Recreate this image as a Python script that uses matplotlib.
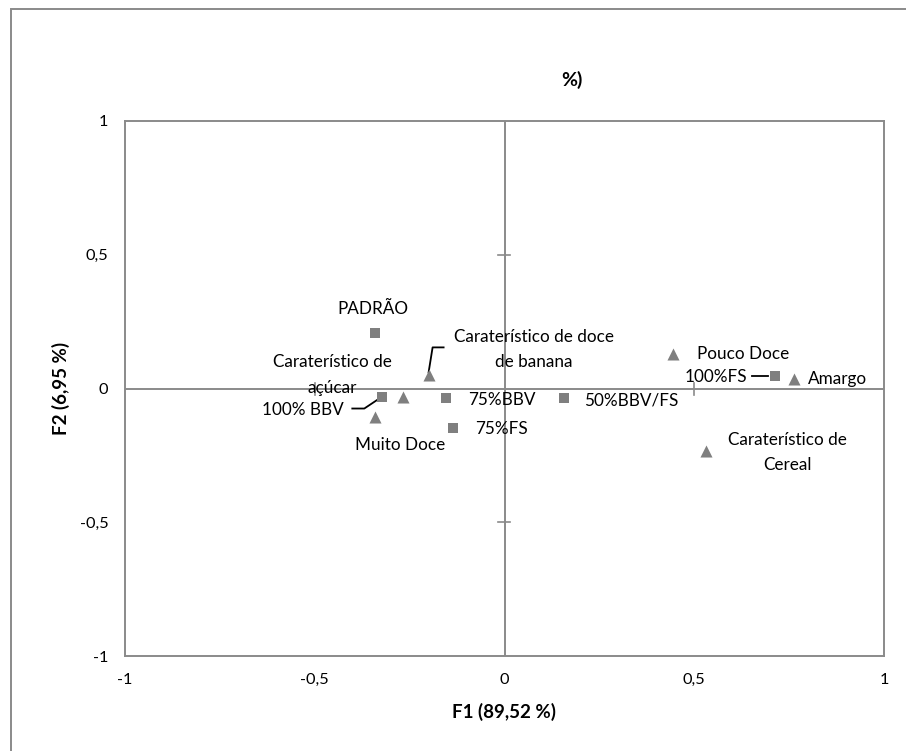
import numpy as np
import matplotlib
matplotlib.use("Agg")
import matplotlib.pyplot as plt
from matplotlib.patches import Rectangle

plt.rcParams['font.family'] = ['Lato', 'DejaVu Sans']

# ---- amostras (quadrados) ----
amostras = ["PADRÃO", "100% BBV", "75%BBV", "75%FS", "50%BBV/FS", "100%FS"]
amostras_f1 = [-0.340, -0.322, -0.153, -0.135, 0.156, 0.712]
amostras_f2 = [0.206, -0.030, -0.037, -0.146, -0.037, 0.045]

# ---- atributos (triângulos) ----
atributos = ["Caraterístico de doce\nde banana", "Caraterístico de\naçúcar", "Muito Doce",
             "Pouco Doce", "Amargo", "Caraterístico de\nCereal"]
atributos_f1 = [-0.200, -0.267, -0.340, 0.444, 0.763, 0.532]
atributos_f2 = [0.049, -0.033, -0.107, 0.130, 0.034, -0.232]

ticks = [-1, -0.5, 0, 0.5, 1]
tick_labels = ["-1", "-0,5", "0", "0,5", "1"]

# deslocamento dos rótulos em pixels (dx, dy, alinhamento)
off_amostras = {
    "PADRÃO": (-3, 24, "center"),
    "100% BBV": (-39, -13, "right"),
    "75%BBV": (22, -2, "left"),
    "75%FS": (22, -1, "left"),
    "50%BBV/FS": (20, -2, "left"),
    "100%FS": (-27, -1, "right"),
}
off_atributos = {
    "Caraterístico de doce\nde banana": (105, 26, "center"),
    "Caraterístico de\naçúcar": (-71, 22, "center"),
    "Muito Doce": (25, -28, "center"),
    "Pouco Doce": (24, 0, "left"),
    "Amargo": (14, 0, "left"),
    "Caraterístico de\nCereal": (81, -2, "center"),
}

grey = "#8a8a8a"
mk = "#7f7f7f"
fs = 12.3

W, H = 906, 751
fig = plt.figure(figsize=(W / 100, H / 100), dpi=100)
ax = fig.add_axes([125 / W, 1 - 656 / H, 759 / W, 535 / H])
ax.set_xlim(-1, 1)
ax.set_ylim(-1, 1)

# moldura externa do gráfico
fig.add_artist(Rectangle((11 / W, -0.1), 1.2, 1 - 9 / H + 0.1, transform=fig.transFigure,
                         fill=False, edgecolor=grey, linewidth=1.4))

for s in ax.spines.values():
    s.set_color(grey)
    s.set_linewidth(1.4)
ax.tick_params(length=0, labelsize=fs - 0.5, colors="black")
ax.set_xticks(ticks)
ax.set_xticklabels(tick_labels)
ax.set_yticks(ticks)
ax.set_yticklabels(tick_labels)
ax.tick_params(axis="x", pad=12.5)
ax.tick_params(axis="y", pad=12)

# eixos centrais com marcas em ±0,5
ax.axhline(0, color=grey, lw=1.4, zorder=1)
ax.axvline(0, color=grey, lw=1.4, zorder=1)


def px(x0, y0, dx, dy):
    p = ax.transData.transform((x0, y0)) + np.array([dx, dy])
    return ax.transData.inverted().transform(p)


for t in [-0.5, 0.5]:
    a, b = px(0, t, -6, 0), px(0, t, 6, 0)
    ax.plot([a[0], b[0]], [t, t], color=grey, lw=1.2, zorder=1)
    a, b = px(t, 0, 0, -6), px(t, 0, 0, 6)
    ax.plot([t, t], [a[1], b[1]], color=grey, lw=1.2, zorder=1)

ax.scatter(amostras_f1, amostras_f2, marker="s", s=60, color=mk, zorder=3, linewidths=0)
ax.scatter(atributos_f1, atributos_f2, marker="^", s=75, color=mk, zorder=3, linewidths=0)

for nome, x, y in zip(amostras, amostras_f1, amostras_f2):
    dx, dy, ha = off_amostras[nome]
    ax.annotate(nome, (x, y), xytext=(dx, dy), textcoords="offset pixels",
                ha=ha, va="center", fontsize=fs)
for nome, x, y in zip(atributos, atributos_f1, atributos_f2):
    dx, dy, ha = off_atributos[nome]
    ax.annotate(nome, (x, y), xytext=(dx, dy), textcoords="offset pixels",
                ha=ha, va="center", fontsize=fs, linespacing=1.75, multialignment="center")

# linhas de chamada
def chamada(x0, y0, offs):
    pts = np.array([px(x0, y0, dx, dy) for dx, dy in offs])
    ax.plot(pts[:, 0], pts[:, 1], color="black", lw=1.3, zorder=2)


chamada(amostras_f1[1], amostras_f2[1], [(-30, -12), (-18, -12), (-3, -2)])
chamada(atributos_f1[0], atributos_f2[0], [(0, 3), (4, 28), (15, 28)])
chamada(amostras_f1[5], amostras_f2[5], [(-23, 0), (-7, 0)])

ax.set_xlabel("F1 (89,52 %)", fontsize=13.5, fontweight="bold", labelpad=11)
ax.set_ylabel("F2 (6,95 %)", fontsize=13.5, fontweight="bold", labelpad=7)
fig.text(572 / W, 1 - 80 / H, "%)", fontsize=14, fontweight="bold", ha="center", va="center")

fig.savefig("out.png", dpi=100)
